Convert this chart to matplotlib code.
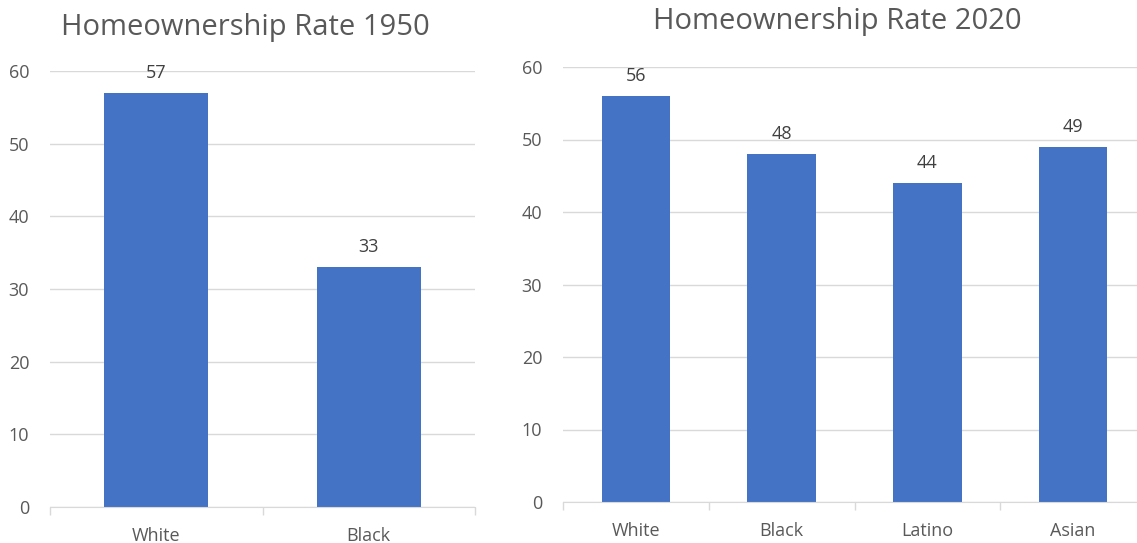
import numpy as np
import matplotlib.pyplot as plt

plt.rcParams['font.family'] = ['Open Sans', 'DejaVu Sans']

# data
groups_1950 = ['White', 'Black']
rates_1950 = [57, 33]
groups_2020 = ['White', 'Black', 'Latino', 'Asian']
rates_2020 = [56, 48, 44, 49]
y_ticks = [0, 10, 20, 30, 40, 50, 60]

BAR = '#4472c4'
GRID = '#d9d9d9'
TXT = '#595959'
W, H = 1137, 543


def draw(ax, groups, rates, width):
    n = len(groups)
    x = np.arange(n)
    ax.bar(x, rates, width=width, color=BAR, zorder=3)
    for xi, v in zip(x, rates):
        ax.annotate(str(v), (xi, v), xytext=(0, 8), textcoords='offset points',
                    ha='center', va='bottom', fontsize=13, color='#404040')
    ax.set_xlim(-0.5, n - 0.5)
    ax.set_ylim(0, 60)
    ax.set_yticks(y_ticks)
    ax.grid(axis='y', color=GRID, linewidth=1, zorder=0)
    ax.set_xticks(x)
    ax.set_xticklabels(groups)
    ax.set_xticks(np.arange(n + 1) - 0.5, minor=True)
    ax.tick_params(axis='x', which='major', length=0, pad=14.5, labelsize=13, labelcolor=TXT)
    ax.tick_params(axis='x', which='minor', length=6, color=GRID, width=1)
    ax.tick_params(axis='y', length=0, pad=15, labelsize=13, labelcolor=TXT)
    for s in ['top', 'right', 'left']:
        ax.spines[s].set_visible(False)
    ax.spines['bottom'].set_color(GRID)
    ax.spines['bottom'].set_zorder(4)


fig = plt.figure(figsize=(W / 100, H / 100), dpi=100)

ax1 = fig.add_axes([50 / W, (H - 507) / H, 425 / W, 436 / H])
draw(ax1, groups_1950, rates_1950, 0.49)
fig.text(245 / W, (H - 28) / H, 'Homeownership Rate 1950', ha='center', va='center',
         fontsize=21, color=TXT)

ax2 = fig.add_axes([563 / W, (H - 502) / H, 583 / W, 435 / H])
draw(ax2, groups_2020, rates_2020, 0.47)
fig.text(837 / W, (H - 22) / H, 'Homeownership Rate 2020', ha='center', va='center',
         fontsize=21, color=TXT)

fig.savefig('out.png', dpi=100)
